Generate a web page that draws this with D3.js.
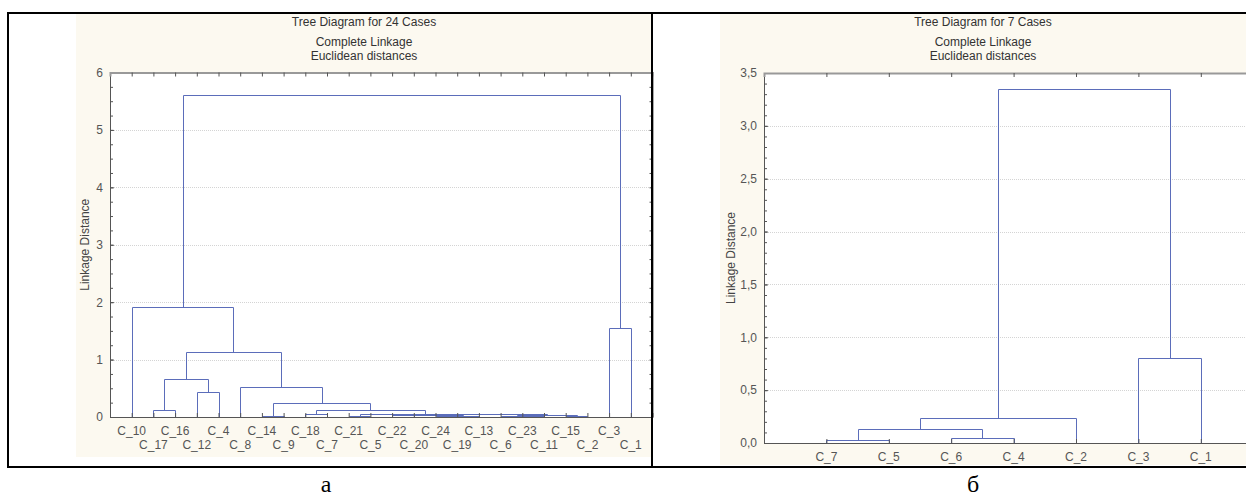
<!DOCTYPE html>
<html>
<head>
<meta charset="utf-8">
<script src="https://cdn.jsdelivr.net/npm/d3@7"></script>
<style>
  body { margin: 0; background: #fff; }
  text { font-family: Arial, "Liberation Sans", sans-serif; }
</style>
</head>
<body>
<div id="chart"></div>
<script>
// ---- data: panel a (24 cases) ----
const leavesA = ["C_10","C_17","C_16","C_12","C_4","C_8","C_14","C_9","C_18","C_7","C_21","C_5",
                 "C_22","C_20","C_24","C_19","C_13","C_6","C_23","C_11","C_15","C_2","C_3","C_1"];
// merges: [left child, right child, linkage distance]; leaves are 0..n-1, merge k is n+k
const mergesA = [
  [14, 15, 0.01], [18, 19, 0.01], [20, 21, 0.012], [10, 11, 0.012],
  [24, 16, 0.02], [6, 7, 0.023], [17, 25, 0.02], [12, 13, 0.03],
  [30, 26, 0.028], [31, 28, 0.035], [33, 32, 0.045], [8, 9, 0.047],
  [27, 34, 0.055], [35, 36, 0.115], [29, 37, 0.25], [1, 2, 0.115],
  [3, 4, 0.43], [5, 38, 0.52], [39, 40, 0.67], [42, 41, 1.14],
  [22, 23, 1.55], [0, 43, 1.92], [45, 44, 5.6]
];
const yTicksA = [0, 1, 2, 3, 4, 5, 6];

// ---- data: panel б (7 cases) ----
const leavesB = ["C_7","C_5","C_6","C_4","C_2","C_3","C_1"];
const mergesB = [
  [0, 1, 0.03], [2, 3, 0.05], [7, 8, 0.13], [9, 4, 0.24], [5, 6, 0.8], [10, 11, 3.35]
];
const yTicksB = [0, 0.5, 1.0, 1.5, 2.0, 2.5, 3.0, 3.5];

const W = 1246, H = 497;
const svg = d3.select('#chart').append('svg')
  .attr('width', W).attr('height', H);

const beige = '#fcf9f0', blue = '#5b6dba';

// draws one Statistica-like tree diagram
function drawTree(cfg) {
  const g = svg.append('g');

  // beige chart background
  g.append('rect')
    .attr('x', cfg.bg[0]).attr('y', cfg.bg[1])
    .attr('width', cfg.bg[2]).attr('height', cfg.bg[3])
    .attr('fill', beige);

  const n = cfg.leaves.length;
  const x = d3.scaleLinear([0, n + 1], [cfg.left, cfg.left + (n + 1) * cfg.step]);
  const y = d3.scaleLinear([0, cfg.yMax], [cfg.bottom, cfg.top]);
  const right = x(n + 1);

  // white plot area
  g.append('rect')
    .attr('x', cfg.left).attr('y', cfg.top)
    .attr('width', right - cfg.left).attr('height', cfg.bottom - cfg.top)
    .attr('fill', '#fff');

  // gridlines
  g.append('g').selectAll('line')
    .data(cfg.yTicks.filter(t => t > 0 && t < cfg.yMax))
    .join('line')
    .attr('x1', cfg.left).attr('x2', right)
    .attr('y1', d => Math.round(y(d)) + 0.5).attr('y2', d => Math.round(y(d)) + 0.5)
    .attr('stroke', '#d4d4d4').attr('stroke-dasharray', '1,1');

  // titles
  const cx = cfg.bg[0] + cfg.bg[2] / 2;
  [[cfg.title, 26], ['Complete Linkage', 46], ['Euclidean distances', 60]].forEach(([t, ty]) => {
    g.append('text').attr('x', cx).attr('y', ty).attr('text-anchor', 'middle')
      .style('font-size', '12px').attr('fill', '#333').text(t);
  });

  // dendrogram links
  const pos = cfg.leaves.map((d, i) => ({ x: x(i + 1), h: 0 }));
  const links = [];
  cfg.merges.forEach(([a, b, h]) => {
    const A = pos[a], B = pos[b];
    links.push([[A.x, A.h], [A.x, h], [B.x, h], [B.x, B.h]]);
    pos.push({ x: (A.x + B.x) / 2, h: h });
  });
  const line = d3.line().x(d => Math.round(d[0]) + 0.5).y(d => Math.round(y(d[1])) + 0.5);
  g.append('g').selectAll('path')
    .data(links)
    .join('path')
    .attr('d', line)
    .attr('fill', 'none').attr('stroke', blue).attr('stroke-width', 1);

  // axes
  const leafTicks = d3.range(1, n + 1);
  const minorTicks = d3.range(0, cfg.yMax + 1e-9, cfg.minor);
  const yAxis = g.append('g').attr('transform', `translate(${cfg.left},0)`)
    .call(d3.axisLeft(y).tickValues(cfg.yTicks).tickSize(-4).tickPadding(7).tickFormat(cfg.fmt));
  yAxis.selectAll('text').style('font-size', '12px').attr('fill', '#555');
  g.append('g').attr('transform', `translate(${cfg.left},0)`)
    .call(d3.axisLeft(y).tickValues(minorTicks).tickSize(-3).tickFormat(''))
    .call(s => s.select('.domain').remove());
  g.append('g').attr('transform', `translate(${right},0)`)
    .call(d3.axisRight(y).tickValues(minorTicks).tickSize(-3).tickFormat(''));
  g.append('g').attr('transform', `translate(0,${cfg.bottom})`)
    .call(d3.axisBottom(x).tickValues(leafTicks).tickSize(-4).tickFormat(''));
  const topAxis = g.append('g').attr('transform', `translate(0,${cfg.top})`)
    .call(d3.axisTop(x).tickValues(leafTicks).tickSize(-4).tickFormat(''));
  g.selectAll('.tick line').attr('stroke', '#555');
  g.selectAll('path.domain').attr('stroke', '#555');
  topAxis.select('.domain').attr('stroke', '#999').attr('stroke-width', 2);

  // leaf labels
  g.append('g').selectAll('text')
    .data(cfg.leaves)
    .join('text')
    .attr('x', (d, i) => x(i + 1))
    .attr('y', (d, i) => cfg.twoRows && i % 2 ? cfg.labelY + 14 : cfg.labelY)
    .attr('dy', '0.35em')
    .attr('text-anchor', 'middle')
    .style('font-size', '12px').attr('fill', '#555')
    .text(d => d);

  // axis title
  g.append('text')
    .attr('transform', `translate(${cfg.yLabelX},${(cfg.top + cfg.bottom) / 2}) rotate(-90)`)
    .attr('text-anchor', 'middle').attr('dy', '0.35em')
    .style('font-size', '12px').attr('fill', '#444')
    .text('Linkage Distance');
}

drawTree({
  leaves: leavesA, merges: mergesA, yTicks: yTicksA, yMax: 6, minor: 0.25,
  left: 110, step: 21.7, top: 72.5, bottom: 417,
  bg: [76, 14, 576, 443], title: 'Tree Diagram for 24 Cases',
  labelY: 431, twoRows: true, yLabelX: 85, fmt: d3.format('d')
});

drawTree({
  leaves: leavesB, merges: mergesB, yTicks: yTicksB, yMax: 3.5, minor: 0.1,
  left: 764, step: 62.4, top: 73, bottom: 443,
  bg: [720, 14, 526, 451], title: 'Tree Diagram for 7 Cases',
  labelY: 457, twoRows: false, yLabelX: 731, fmt: d => d3.format('.1f')(d).replace('.', ',')
});

// frame lines of the figure table
const frame = svg.append('g').attr('stroke', '#000').attr('stroke-width', 2);
frame.append('line').attr('x1', 7).attr('x2', W).attr('y1', 13).attr('y2', 13);
frame.append('line').attr('x1', 7).attr('x2', W).attr('y1', 467).attr('y2', 467);
frame.append('line').attr('x1', 8).attr('x2', 8).attr('y1', 12).attr('y2', 468);
frame.append('line').attr('x1', 652).attr('x2', 652).attr('y1', 12).attr('y2', 468);

// captions
svg.append('text').attr('x', 326).attr('y', 492).attr('text-anchor', 'middle')
  .style('font-family', '"Liberation Serif", "Times New Roman", serif').style('font-size', '24px')
  .text('а');
svg.append('text').attr('x', 973).attr('y', 492).attr('text-anchor', 'middle')
  .style('font-family', '"Liberation Serif", "Times New Roman", serif').style('font-size', '24px')
  .text('б');
</script>
</body>
</html>
